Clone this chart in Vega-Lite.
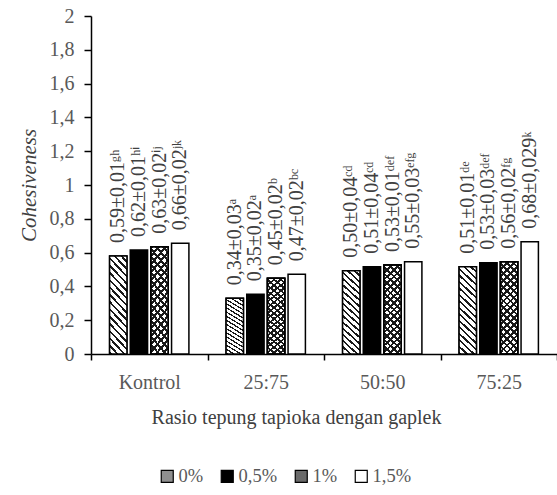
{
  "$schema": "https://vega.github.io/schema/vega-lite/v6.json",
  "autosize": "none",
  "width": 466,
  "height": 338,
  "padding": {"left": 91, "top": 16, "right": 0, "bottom": 141},
  "background": "white",
  "config": {
    "view": {"stroke": null},
    "font": "Liberation Serif",
    "axis": {"labelFont": "Liberation Serif", "titleFont": "Liberation Serif", "domainColor": "black", "tickColor": "black", "domainWidth": 1.5, "tickWidth": 1.5, "labelColor": "#595959", "titleColor": "#404040", "titleFontWeight": "normal"}
  },
  "data": {
    "values": [
      {"ratio": "Kontrol", "level": "0%", "value": 0.58, "label": "0,59±0,01ᵍʰ"},
      {"ratio": "Kontrol", "level": "0,5%", "value": 0.615, "label": "0,62±0,01ʰⁱ"},
      {"ratio": "Kontrol", "level": "1%", "value": 0.635, "label": "0,63±0,02ⁱʲ"},
      {"ratio": "Kontrol", "level": "1,5%", "value": 0.655, "label": "0,66±0,02ʲᵏ"},
      {"ratio": "25:75", "level": "0%", "value": 0.33, "label": "0,34±0,03ᵃ"},
      {"ratio": "25:75", "level": "0,5%", "value": 0.353, "label": "0,35±0,02ᵃ"},
      {"ratio": "25:75", "level": "1%", "value": 0.448, "label": "0,45±0,02ᵇ"},
      {"ratio": "25:75", "level": "1,5%", "value": 0.472, "label": "0,47±0,02ᵇᶜ"},
      {"ratio": "50:50", "level": "0%", "value": 0.493, "label": "0,50±0,04ᶜᵈ"},
      {"ratio": "50:50", "level": "0,5%", "value": 0.516, "label": "0,51±0,04ᶜᵈ"},
      {"ratio": "50:50", "level": "1%", "value": 0.526, "label": "0,53±0,01ᵈᵉᶠ"},
      {"ratio": "50:50", "level": "1,5%", "value": 0.546, "label": "0,55±0,03ᵉᶠᵍ"},
      {"ratio": "75:25", "level": "0%", "value": 0.516, "label": "0,51±0,01ᵈᵉ"},
      {"ratio": "75:25", "level": "0,5%", "value": 0.54, "label": "0,53±0,03ᵈᵉᶠ"},
      {"ratio": "75:25", "level": "1%", "value": 0.546, "label": "0,56±0,02ᶠᵍ"},
      {"ratio": "75:25", "level": "1,5%", "value": 0.664, "label": "0,68±0,029ᵏ"}
    ]
  },
  "encoding": {
    "x": {
      "field": "ratio", "type": "nominal", "sort": ["Kontrol", "25:75", "50:50", "75:25"],
      "scale": {"paddingInner": 0, "paddingOuter": 0},
      "axis": {"title": "Rasio tepung tapioka dengan gaplek", "labelAngle": 0, "tickBand": "extent", "tickSize": 6, "labelFontSize": 20, "labelPadding": 12, "titleFontSize": 20, "titlePadding": 15, "titleX": 205}
    },
    "xOffset": {
      "field": "level", "type": "nominal",
      "scale": {"domain": ["0%", "0,5%", "1%", "1,5%"], "paddingInner": 0.16, "paddingOuter": 0.9}
    },
    "y": {
      "field": "value", "type": "quantitative",
      "scale": {"domain": [0, 2], "nice": false},
      "axis": {"title": "Cohesiveness", "titleFontStyle": "italic", "titleFontSize": 21, "titlePadding": 10, "values": [0, 0.2, 0.4, 0.6, 0.8, 1, 1.2, 1.4, 1.6, 1.8, 2], "labelExpr": "replace(format(datum.value, '~g'), '.', ',')", "grid": false, "tickSize": 7, "labelFontSize": 20, "labelPadding": 10}
    }
  },
  "layer": [
    {
      "mark": {"type": "bar", "stroke": "black", "strokeWidth": 1.5},
      "encoding": {
        "fill": {
          "field": "level", "type": "nominal",
          "scale": {"domain": ["0%", "0,5%", "1%", "1,5%"], "range": ["#8f8f8f", "#000000", "#6a6a6a", "#ffffff"]},
          "legend": {"orient": "none", "legendX": 67, "legendY": 451, "direction": "horizontal", "columns": 4, "title": null, "padding": 0, "columnPadding": 14, "symbolType": "square", "symbolSize": 144, "symbolStrokeColor": "black", "symbolStrokeWidth": 1.2, "labelFont": "Liberation Serif", "labelFontSize": 18.5, "labelColor": "#595959", "labelOffset": 2}
        }
      }
    },
    {
      "transform": [{"filter": "datum.level === '0%'"}],
      "mark": {"type": "bar", "stroke": "black", "strokeWidth": 1.5,
        "fill": {"gradient": "linear", "x1": 0, "y1": 1, "x2": 0.217, "y2": -0.148, "stops": [
          {"offset": 0, "color": "#1a1a1a"}, {"offset": 0.022, "color": "#1a1a1a"}, {"offset": 0.022, "color": "white"}, {"offset": 0.0625, "color": "white"},
          {"offset": 0.0625, "color": "#1a1a1a"}, {"offset": 0.0845, "color": "#1a1a1a"}, {"offset": 0.0845, "color": "white"}, {"offset": 0.125, "color": "white"},
          {"offset": 0.125, "color": "#1a1a1a"}, {"offset": 0.147, "color": "#1a1a1a"}, {"offset": 0.147, "color": "white"}, {"offset": 0.1875, "color": "white"},
          {"offset": 0.1875, "color": "#1a1a1a"}, {"offset": 0.2095, "color": "#1a1a1a"}, {"offset": 0.2095, "color": "white"}, {"offset": 0.25, "color": "white"},
          {"offset": 0.25, "color": "#1a1a1a"}, {"offset": 0.272, "color": "#1a1a1a"}, {"offset": 0.272, "color": "white"}, {"offset": 0.3125, "color": "white"},
          {"offset": 0.3125, "color": "#1a1a1a"}, {"offset": 0.3345, "color": "#1a1a1a"}, {"offset": 0.3345, "color": "white"}, {"offset": 0.375, "color": "white"},
          {"offset": 0.375, "color": "#1a1a1a"}, {"offset": 0.397, "color": "#1a1a1a"}, {"offset": 0.397, "color": "white"}, {"offset": 0.4375, "color": "white"},
          {"offset": 0.4375, "color": "#1a1a1a"}, {"offset": 0.4595, "color": "#1a1a1a"}, {"offset": 0.4595, "color": "white"}, {"offset": 0.5, "color": "white"},
          {"offset": 0.5, "color": "#1a1a1a"}, {"offset": 0.522, "color": "#1a1a1a"}, {"offset": 0.522, "color": "white"}, {"offset": 0.5625, "color": "white"},
          {"offset": 0.5625, "color": "#1a1a1a"}, {"offset": 0.5845, "color": "#1a1a1a"}, {"offset": 0.5845, "color": "white"}, {"offset": 0.625, "color": "white"},
          {"offset": 0.625, "color": "#1a1a1a"}, {"offset": 0.647, "color": "#1a1a1a"}, {"offset": 0.647, "color": "white"}, {"offset": 0.6875, "color": "white"},
          {"offset": 0.6875, "color": "#1a1a1a"}, {"offset": 0.7095, "color": "#1a1a1a"}, {"offset": 0.7095, "color": "white"}, {"offset": 0.75, "color": "white"},
          {"offset": 0.75, "color": "#1a1a1a"}, {"offset": 0.772, "color": "#1a1a1a"}, {"offset": 0.772, "color": "white"}, {"offset": 0.8125, "color": "white"},
          {"offset": 0.8125, "color": "#1a1a1a"}, {"offset": 0.8345, "color": "#1a1a1a"}, {"offset": 0.8345, "color": "white"}, {"offset": 0.875, "color": "white"},
          {"offset": 0.875, "color": "#1a1a1a"}, {"offset": 0.897, "color": "#1a1a1a"}, {"offset": 0.897, "color": "white"}, {"offset": 0.9375, "color": "white"},
          {"offset": 0.9375, "color": "#1a1a1a"}, {"offset": 0.9595, "color": "#1a1a1a"}, {"offset": 0.9595, "color": "white"}, {"offset": 1, "color": "white"}
        ]}
      },
      "encoding": {}
    },
    {
      "transform": [{"filter": "datum.level === '1%'"}],
      "mark": {"type": "bar", "stroke": "black", "strokeWidth": 1.5,
        "fill": {"gradient": "linear", "x1": 0, "y1": 0, "x2": 0.217, "y2": 1.148, "stops": [
          {"offset": 0, "color": "#1a1a1a"}, {"offset": 0.025, "color": "#1a1a1a"}, {"offset": 0.025, "color": "white"}, {"offset": 0.0625, "color": "white"},
          {"offset": 0.0625, "color": "#1a1a1a"}, {"offset": 0.0875, "color": "#1a1a1a"}, {"offset": 0.0875, "color": "white"}, {"offset": 0.125, "color": "white"},
          {"offset": 0.125, "color": "#1a1a1a"}, {"offset": 0.15, "color": "#1a1a1a"}, {"offset": 0.15, "color": "white"}, {"offset": 0.1875, "color": "white"},
          {"offset": 0.1875, "color": "#1a1a1a"}, {"offset": 0.2125, "color": "#1a1a1a"}, {"offset": 0.2125, "color": "white"}, {"offset": 0.25, "color": "white"},
          {"offset": 0.25, "color": "#1a1a1a"}, {"offset": 0.275, "color": "#1a1a1a"}, {"offset": 0.275, "color": "white"}, {"offset": 0.3125, "color": "white"},
          {"offset": 0.3125, "color": "#1a1a1a"}, {"offset": 0.3375, "color": "#1a1a1a"}, {"offset": 0.3375, "color": "white"}, {"offset": 0.375, "color": "white"},
          {"offset": 0.375, "color": "#1a1a1a"}, {"offset": 0.4, "color": "#1a1a1a"}, {"offset": 0.4, "color": "white"}, {"offset": 0.4375, "color": "white"},
          {"offset": 0.4375, "color": "#1a1a1a"}, {"offset": 0.4625, "color": "#1a1a1a"}, {"offset": 0.4625, "color": "white"}, {"offset": 0.5, "color": "white"},
          {"offset": 0.5, "color": "#1a1a1a"}, {"offset": 0.525, "color": "#1a1a1a"}, {"offset": 0.525, "color": "white"}, {"offset": 0.5625, "color": "white"},
          {"offset": 0.5625, "color": "#1a1a1a"}, {"offset": 0.5875, "color": "#1a1a1a"}, {"offset": 0.5875, "color": "white"}, {"offset": 0.625, "color": "white"},
          {"offset": 0.625, "color": "#1a1a1a"}, {"offset": 0.65, "color": "#1a1a1a"}, {"offset": 0.65, "color": "white"}, {"offset": 0.6875, "color": "white"},
          {"offset": 0.6875, "color": "#1a1a1a"}, {"offset": 0.7125, "color": "#1a1a1a"}, {"offset": 0.7125, "color": "white"}, {"offset": 0.75, "color": "white"},
          {"offset": 0.75, "color": "#1a1a1a"}, {"offset": 0.775, "color": "#1a1a1a"}, {"offset": 0.775, "color": "white"}, {"offset": 0.8125, "color": "white"},
          {"offset": 0.8125, "color": "#1a1a1a"}, {"offset": 0.8375, "color": "#1a1a1a"}, {"offset": 0.8375, "color": "white"}, {"offset": 0.875, "color": "white"},
          {"offset": 0.875, "color": "#1a1a1a"}, {"offset": 0.9, "color": "#1a1a1a"}, {"offset": 0.9, "color": "white"}, {"offset": 0.9375, "color": "white"},
          {"offset": 0.9375, "color": "#1a1a1a"}, {"offset": 0.9625, "color": "#1a1a1a"}, {"offset": 0.9625, "color": "white"}, {"offset": 1, "color": "white"}
        ]}
      },
      "encoding": {}
    },
    {
      "transform": [{"filter": "datum.level === '1%'"}],
      "mark": {"type": "bar", "stroke": "black", "strokeWidth": 1.5,
        "fill": {"gradient": "linear", "x1": 0, "y1": 1, "x2": 0.217, "y2": -0.148, "stops": [
          {"offset": 0, "color": "#1a1a1a"}, {"offset": 0.025, "color": "#1a1a1a"}, {"offset": 0.025, "color": "rgba(255,255,255,0)"}, {"offset": 0.0625, "color": "rgba(255,255,255,0)"},
          {"offset": 0.0625, "color": "#1a1a1a"}, {"offset": 0.0875, "color": "#1a1a1a"}, {"offset": 0.0875, "color": "rgba(255,255,255,0)"}, {"offset": 0.125, "color": "rgba(255,255,255,0)"},
          {"offset": 0.125, "color": "#1a1a1a"}, {"offset": 0.15, "color": "#1a1a1a"}, {"offset": 0.15, "color": "rgba(255,255,255,0)"}, {"offset": 0.1875, "color": "rgba(255,255,255,0)"},
          {"offset": 0.1875, "color": "#1a1a1a"}, {"offset": 0.2125, "color": "#1a1a1a"}, {"offset": 0.2125, "color": "rgba(255,255,255,0)"}, {"offset": 0.25, "color": "rgba(255,255,255,0)"},
          {"offset": 0.25, "color": "#1a1a1a"}, {"offset": 0.275, "color": "#1a1a1a"}, {"offset": 0.275, "color": "rgba(255,255,255,0)"}, {"offset": 0.3125, "color": "rgba(255,255,255,0)"},
          {"offset": 0.3125, "color": "#1a1a1a"}, {"offset": 0.3375, "color": "#1a1a1a"}, {"offset": 0.3375, "color": "rgba(255,255,255,0)"}, {"offset": 0.375, "color": "rgba(255,255,255,0)"},
          {"offset": 0.375, "color": "#1a1a1a"}, {"offset": 0.4, "color": "#1a1a1a"}, {"offset": 0.4, "color": "rgba(255,255,255,0)"}, {"offset": 0.4375, "color": "rgba(255,255,255,0)"},
          {"offset": 0.4375, "color": "#1a1a1a"}, {"offset": 0.4625, "color": "#1a1a1a"}, {"offset": 0.4625, "color": "rgba(255,255,255,0)"}, {"offset": 0.5, "color": "rgba(255,255,255,0)"},
          {"offset": 0.5, "color": "#1a1a1a"}, {"offset": 0.525, "color": "#1a1a1a"}, {"offset": 0.525, "color": "rgba(255,255,255,0)"}, {"offset": 0.5625, "color": "rgba(255,255,255,0)"},
          {"offset": 0.5625, "color": "#1a1a1a"}, {"offset": 0.5875, "color": "#1a1a1a"}, {"offset": 0.5875, "color": "rgba(255,255,255,0)"}, {"offset": 0.625, "color": "rgba(255,255,255,0)"},
          {"offset": 0.625, "color": "#1a1a1a"}, {"offset": 0.65, "color": "#1a1a1a"}, {"offset": 0.65, "color": "rgba(255,255,255,0)"}, {"offset": 0.6875, "color": "rgba(255,255,255,0)"},
          {"offset": 0.6875, "color": "#1a1a1a"}, {"offset": 0.7125, "color": "#1a1a1a"}, {"offset": 0.7125, "color": "rgba(255,255,255,0)"}, {"offset": 0.75, "color": "rgba(255,255,255,0)"},
          {"offset": 0.75, "color": "#1a1a1a"}, {"offset": 0.775, "color": "#1a1a1a"}, {"offset": 0.775, "color": "rgba(255,255,255,0)"}, {"offset": 0.8125, "color": "rgba(255,255,255,0)"},
          {"offset": 0.8125, "color": "#1a1a1a"}, {"offset": 0.8375, "color": "#1a1a1a"}, {"offset": 0.8375, "color": "rgba(255,255,255,0)"}, {"offset": 0.875, "color": "rgba(255,255,255,0)"},
          {"offset": 0.875, "color": "#1a1a1a"}, {"offset": 0.9, "color": "#1a1a1a"}, {"offset": 0.9, "color": "rgba(255,255,255,0)"}, {"offset": 0.9375, "color": "rgba(255,255,255,0)"},
          {"offset": 0.9375, "color": "#1a1a1a"}, {"offset": 0.9625, "color": "#1a1a1a"}, {"offset": 0.9625, "color": "rgba(255,255,255,0)"}, {"offset": 1, "color": "rgba(255,255,255,0)"}
        ]}
      },
      "encoding": {}
    },
    {
      "mark": {"type": "text", "angle": 270, "align": "left", "baseline": "middle", "dx": 13, "font": "Liberation Serif", "fontSize": 20, "color": "#404040"},
      "encoding": {"text": {"field": "label", "type": "nominal"}}
    }
  ]
}
